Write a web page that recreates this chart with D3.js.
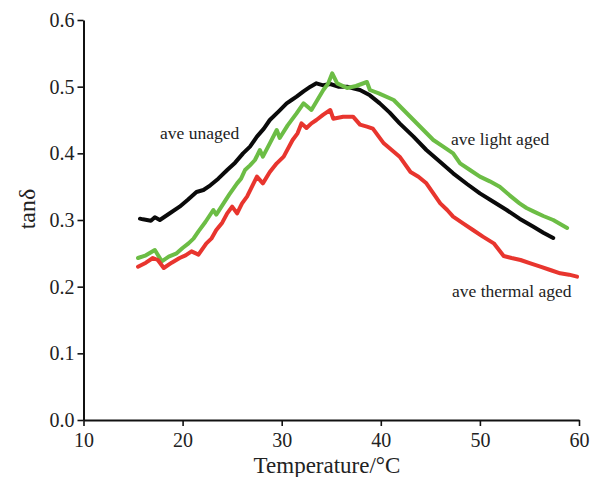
<!DOCTYPE html>
<html>
<head>
<meta charset="utf-8">
<script src="https://cdn.jsdelivr.net/npm/d3@7"></script>
<style>
  body { margin: 0; background: #fff; }
  svg text { font-family: "Liberation Serif", "Times New Roman", serif; fill: #222; }
</style>
</head>
<body>
<svg id="chart" width="591" height="477"></svg>
<script>
// tan delta vs temperature
var unagedT = [15.7, 16.0, 16.8, 17.2, 17.7, 18.6, 19.7, 20.5, 21.4, 22.1, 22.8, 23.6, 24.5, 25.3, 26.1, 26.8, 27.5, 28.2, 28.8, 29.7, 30.5, 31.0, 31.5, 32.2, 32.9, 33.5, 34.2, 34.9, 35.7, 36.6, 37.3, 37.9, 38.9, 39.9, 40.9, 41.9, 43.3, 44.6, 46.0, 47.3, 48.7, 50.0, 51.4, 52.7, 54.0, 55.4, 56.4, 57.4];
var unagedV = [0.302, 0.301, 0.299, 0.304, 0.300, 0.309, 0.320, 0.330, 0.342, 0.345, 0.352, 0.362, 0.375, 0.386, 0.400, 0.410, 0.425, 0.437, 0.450, 0.463, 0.475, 0.480, 0.485, 0.493, 0.500, 0.505, 0.502, 0.504, 0.500, 0.500, 0.497, 0.495, 0.487, 0.475, 0.461, 0.445, 0.425, 0.405, 0.387, 0.370, 0.354, 0.340, 0.327, 0.315, 0.302, 0.290, 0.281, 0.273];

var lightT = [15.5, 16.3, 17.2, 17.9, 18.6, 19.4, 20.0, 20.6, 21.1, 21.6, 22.3, 23.1, 23.4, 24.0, 24.7, 25.5, 25.9, 26.3, 26.8, 27.3, 27.8, 28.1, 28.8, 29.5, 29.8, 30.6, 31.5, 32.2, 33.0, 33.6, 34.2, 34.7, 35.1, 35.6, 36.6, 37.5, 38.6, 38.9, 39.8, 41.3, 42.3, 43.3, 44.3, 45.3, 46.3, 47.3, 48.0, 49.0, 50.0, 51.0, 52.0, 53.0, 54.0, 54.7, 55.4, 56.4, 57.4, 58.1, 58.8];
var lightV = [0.243, 0.247, 0.255, 0.238, 0.245, 0.250, 0.258, 0.265, 0.272, 0.283, 0.297, 0.315, 0.308, 0.322, 0.338, 0.355, 0.362, 0.375, 0.382, 0.390, 0.405, 0.395, 0.415, 0.435, 0.423, 0.442, 0.460, 0.475, 0.465, 0.480, 0.495, 0.505, 0.520, 0.505, 0.498, 0.501, 0.507, 0.495, 0.490, 0.480, 0.465, 0.450, 0.435, 0.420, 0.410, 0.400, 0.385, 0.375, 0.365, 0.358, 0.350, 0.337, 0.325, 0.318, 0.313, 0.306, 0.300, 0.294, 0.288];

var thermalT = [15.5, 16.3, 17.0, 17.5, 18.1, 18.9, 19.7, 20.3, 20.9, 21.6, 22.4, 22.9, 23.4, 24.0, 24.5, 25.0, 25.5, 26.0, 26.5, 27.0, 27.5, 28.1, 28.8, 29.5, 30.2, 31.1, 31.6, 32.0, 32.5, 33.0, 33.5, 34.2, 34.9, 35.2, 36.2, 37.2, 37.9, 38.6, 39.2, 40.3, 41.1, 41.9, 43.0, 43.8, 44.6, 45.3, 46.0, 46.7, 47.3, 48.3, 49.3, 50.3, 51.4, 52.4, 53.2, 54.1, 55.1, 56.1, 57.1, 58.1, 59.0, 59.8];
var thermalV = [0.230, 0.236, 0.243, 0.240, 0.228, 0.236, 0.243, 0.247, 0.253, 0.248, 0.265, 0.272, 0.285, 0.296, 0.310, 0.320, 0.310, 0.325, 0.335, 0.350, 0.365, 0.355, 0.372, 0.385, 0.395, 0.420, 0.430, 0.445, 0.438, 0.445, 0.450, 0.458, 0.465, 0.452, 0.455, 0.455, 0.443, 0.440, 0.437, 0.415, 0.405, 0.395, 0.372, 0.365, 0.355, 0.340, 0.325, 0.315, 0.305, 0.295, 0.285, 0.275, 0.265, 0.246, 0.243, 0.240, 0.235, 0.230, 0.225, 0.220, 0.218, 0.215];

var xTicks = [10, 20, 30, 40, 50, 60];
var yTicks = [0.0, 0.1, 0.2, 0.3, 0.4, 0.5, 0.6];

var series = [
  {name: 'ave unaged', t: unagedT, v: unagedV, color: '#0a0a0a'},
  {name: 'ave light aged', t: lightT, v: lightV, color: '#6cbd45'},
  {name: 'ave thermal aged', t: thermalT, v: thermalV, color: '#e8352e'}
];

var svg = d3.select('#chart');
var x = d3.scaleLinear().domain([10, 60]).range([83.5, 579]);
var y = d3.scaleLinear().domain([0, 0.6]).range([420, 20]);

// axes
var xAxis = svg.append('g')
  .attr('transform', 'translate(0,420)')
  .call(d3.axisBottom(x).tickValues(xTicks).tickSize(6).tickSizeOuter(0).tickFormat(d3.format('d')));
var yAxis = svg.append('g')
  .attr('transform', 'translate(83.5,0)')
  .call(d3.axisLeft(y).tickValues(yTicks).tickSize(6).tickSizeOuter(0).tickFormat(d3.format('.1f')));

[xAxis, yAxis].forEach(function (a) {
  a.select('.domain').attr('stroke', '#111').attr('stroke-width', 2);
  a.selectAll('.tick line').attr('stroke', '#111').attr('stroke-width', 1.6);
  a.selectAll('.tick text').attr('font-size', 20).attr('fill', '#222')
    .attr('font-family', '"Liberation Serif", serif');
});
xAxis.selectAll('.tick text').attr('dy', '0.9em');
yAxis.selectAll('.tick text').attr('x', -9);

// curves
var line = d3.line()
  .x(function (d) { return x(d[0]); })
  .y(function (d) { return y(d[1]); });

series.forEach(function (s) {
  var pts = s.t.map(function (t, i) { return [t, s.v[i]]; });
  svg.append('path')
    .datum(pts)
    .attr('d', line)
    .attr('fill', 'none')
    .attr('stroke', s.color)
    .attr('stroke-width', 4)
    .attr('stroke-linejoin', 'round')
    .attr('stroke-linecap', 'round');
});

// labels on the curves
var labelPos = [[160, 139], [451, 145], [452, 297]];
series.forEach(function (s, i) {
  svg.append('text')
    .attr('x', labelPos[i][0])
    .attr('y', labelPos[i][1])
    .attr('font-size', 17.5)
    .attr('fill', '#2a2a2a')
    .text(s.name);
});

// axis titles
svg.append('text')
  .attr('x', 327).attr('y', 473)
  .attr('text-anchor', 'middle')
  .attr('font-size', 23)
  .text('Temperature/°C');

svg.append('text')
  .attr('transform', 'translate(35,209) rotate(-90)')
  .attr('text-anchor', 'middle')
  .attr('font-size', 24)
  .text('tanδ');
</script>
</body>
</html>
